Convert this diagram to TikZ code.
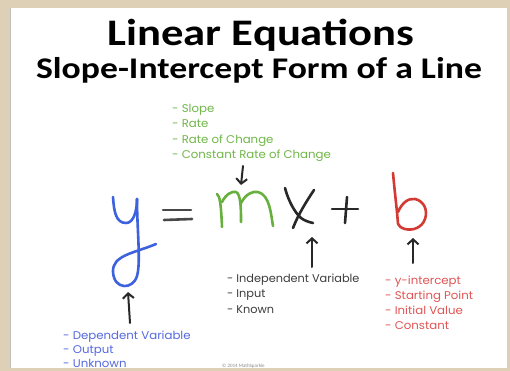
\documentclass[tikz,border=0pt]{standalone}
\usepackage{fontspec}
\setmainfont{Carlito}
\newfontfamily\listfont{Poppins}
\usetikzlibrary{arrows.meta}
\definecolor{beige}{RGB}{222,208,182}
\definecolor{hgreen}{RGB}{104,176,62}
\definecolor{hblue}{RGB}{62,98,222}
\definecolor{hred}{RGB}{212,58,52}
\definecolor{ink}{RGB}{40,40,40}
\definecolor{listblue}{RGB}{84,104,226}
\definecolor{listred}{RGB}{226,84,84}
\definecolor{listgray}{RGB}{60,60,60}
\definecolor{listgreen}{RGB}{112,182,72}
\begin{document}
\begin{tikzpicture}[x=1pt,y=-1pt,
  hand/.style={line width=2.6pt,line cap=round,line join=round},
  pointer/.style={ink,line width=2pt,line cap=round,-{Straight Barb[length=5pt,width=11pt,line width=2pt]}},
  item/.style={anchor=base west,inner sep=0pt,font=\listfont\fontsize{11.2}{13}\selectfont},
  ]
\fill[beige] (0,0) rectangle (510,371);
\fill[white] (10,8) rectangle (507,368);
\draw[black!25,line width=1.5pt] (10.5,8) -- (10.5,368);
\useasboundingbox (0,0) rectangle (510,371);
% titles
\node[font=\bfseries\fontsize{37.5}{42}\selectfont,anchor=base,inner sep=0pt] (title) at (261,46) {\scalebox{1.19}[1]{Linear Equations}};
\node[font=\bfseries\fontsize{30}{34}\selectfont,anchor=base,inner sep=0pt] (sub) at (259,79) {\scalebox{1.19}[1]{Slope-Intercept Form of a Line}};
% green list
\node[item,text=listgreen] (g1) at (172,113) {\scalebox{1.05}[1]{- Slope}};
\node[item,text=listgreen] (g2) at (172,128) {\scalebox{1.05}[1]{- Rate}};
\node[item,text=listgreen] (g3) at (172,143.5) {\scalebox{1.05}[1]{- Rate of Change}};
\node[item,text=listgreen] (g4) at (172,158.5) {\scalebox{1.05}[1]{- Constant Rate of Change}};
% equation letters
\draw[hand,hblue] (113,197) .. controls (114,212) and (116,223) .. (126,223) .. controls (134,223) and (137,210) .. (137,199);
\draw[hand,hblue] (137,199) .. controls (137,230) and (141,262) .. (137,276) .. controls (133,290) and (114,290) .. (113,272) .. controls (112,255) and (135,253) .. (156,244);
\draw[hand,ink!85] (163,210) -- (191,210);
\draw[hand,ink!85] (164,220) -- (192,219);
\draw[hand,hgreen] (217,194) .. controls (220,196) and (221,205) .. (222,227);
\draw[hand,hgreen] (222,202) .. controls (226,194) and (232,191) .. (236,192) .. controls (241,194) and (241,210) .. (241,222);
\draw[hand,hgreen] (241,203) .. controls (246,194) and (252,191) .. (258,192) .. controls (270,195) and (271,215) .. (273,226);
\draw[hand,ink] (285,188) .. controls (288,200) and (295,213) .. (301,218) .. controls (305,221) and (309,222) .. (313,223);
\draw[hand,ink] (314,190) .. controls (306,202) and (298,215) .. (293,228);
\draw[hand,ink] (332,209) -- (358,209);
\draw[hand,ink] (347,197) -- (345,223);
\draw[hand,hred] (393,173) .. controls (395,195) and (397,210) .. (398,224);
\draw[hand,hred] (398,212) .. controls (402,203) and (408,198) .. (415,199) .. controls (424,201) and (428,210) .. (425,219) .. controls (422,228) and (412,231) .. (405,229) .. controls (401,228) and (399,226) .. (398,224);
% pointer arrows
\coordinate (mTop) at (243,166);
\coordinate (mTip) at (241,185);
\coordinate (xTail) at (312,267);
\coordinate (xTip) at (312,237);
\coordinate (bTail) at (413,263);
\coordinate (bTip) at (413,238);
\coordinate (yTail) at (130,323);
\coordinate (yTip) at (128,292);
\draw[pointer] (mTop) -- (mTip);
\draw[pointer] (xTail) -- (xTip);
\draw[pointer] (bTail) -- (bTip);
\draw[pointer] (yTail) -- (yTip);
% black list
\node[item,text=listgray] (k1) at (227,282) {\scalebox{1.01}[1]{- Independent Variable}};
\node[item,text=listgray] (k2) at (227,297.5) {\scalebox{1.01}[1]{- Input}};
\node[item,text=listgray] (k3) at (227,313) {\scalebox{1.01}[1]{- Known}};
% red list
\node[item,text=listred] (r1) at (385,284) {\scalebox{1.05}[1]{- y-intercept}};
\node[item,text=listred] (r2) at (385,299) {\scalebox{1.05}[1]{- Starting Point}};
\node[item,text=listred] (r3) at (385,314) {\scalebox{1.05}[1]{- Initial Value}};
\node[item,text=listred] (r4) at (385,329) {\scalebox{1.05}[1]{- Constant}};
% blue list
\node[item,text=listblue] (d1) at (63,339) {\scalebox{1.05}[1]{- Dependent Variable}};
\node[item,text=listblue] (d2) at (63,353) {\scalebox{1.05}[1]{- Output}};
\node[item,text=listblue] (d3) at (63,367) {\scalebox{1.05}[1]{- Unknown}};
% copyright
\node[font=\fontsize{5}{6}\selectfont,text=black!45,anchor=base west,inner sep=0pt] (copy) at (222,367) {© 2014 MathSparkle};
\end{tikzpicture}
\end{document}
